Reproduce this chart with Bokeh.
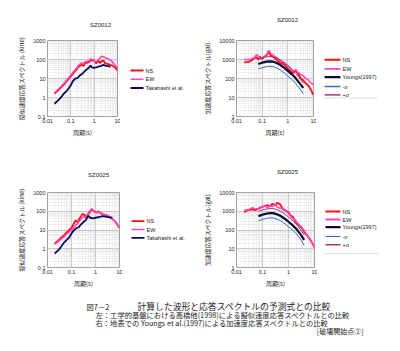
import math
from bokeh.plotting import figure
from bokeh.models import (FixedTicker, CustomJSTickFormatter, Label, Range1d, Spacer)
from bokeh.core.properties import value
from bokeh.layouts import column, row
from bokeh.embed import file_html
from bokeh.resources import INLINE

# ---------------- data ----------------
# Panel 1: SZ0012, pseudo-velocity response spectrum (kine)
p1_T = [0.02, 0.03, 0.04, 0.05, 0.06, 0.08, 0.1, 0.12, 0.15, 0.18, 0.2, 0.25, 0.3, 0.35,
        0.4, 0.5, 0.6, 0.7, 0.8, 0.9, 1.0, 1.2, 1.5, 1.8, 2.0, 2.5, 3.0, 4.0, 5.0, 6.0,
        7.0, 8.0, 10.0]
p1_NS = [1.6, 2.5, 3.6, 4.8, 6.2, 9.5, 13, 17, 24, 30, 38, 48, 52, 45, 62, 68, 75, 95,
         85, 100, 90, 62, 85, 65, 80, 88, 62, 58, 52, 48, 42, 38, 26]
p1_EW = [1.8, 2.8, 4.0, 5.5, 7.0, 11, 15, 20, 28, 35, 45, 58, 65, 60, 75, 80, 85, 110,
         100, 95, 80, 75, 95, 120, 150, 140, 125, 110, 90, 75, 60, 50, 35]
p1_TK_T = [0.02, 0.03, 0.04, 0.05, 0.06, 0.07, 0.08, 0.1, 0.12, 0.15, 0.2, 0.25, 0.3,
           0.4, 0.5, 0.6, 0.7, 0.8, 1.0, 1.2, 1.5, 2.0, 2.5, 3.0, 4.0, 5.0]
p1_TK = [0.47, 0.75, 1.1, 1.6, 2.0, 2.4, 3.0, 4.4, 7, 9.5, 11, 15, 17, 25, 31, 38, 48,
         38, 36, 38, 42, 46, 52, 48, 45, 42]

# Panel 2: SZ0012, acceleration response spectrum (gal)
p2_T = [0.02, 0.03, 0.04, 0.05, 0.06, 0.07, 0.08, 0.1, 0.13, 0.15, 0.18, 0.21, 0.25,
        0.28, 0.36, 0.47, 0.6, 0.71, 0.85, 1.0, 1.2, 1.4, 1.6, 2.0, 2.4, 3.2, 4.0, 4.7,
        6.0, 7.0, 8.0, 9.3, 10.0]
p2_NS = [700, 750, 950, 1200, 1300, 1000, 1400, 1100, 1500, 1700, 2650, 1600, 1400,
         1350, 1000, 700, 620, 550, 430, 330, 270, 220, 190, 270, 190, 105, 80, 60, 45,
         34, 25, 16, 14]
p2_EW = [1000, 1000, 1100, 1300, 1800, 1500, 1100, 1250, 1550, 1800, 3000, 2200, 1800,
         1600, 1300, 950, 800, 700, 580, 480, 380, 300, 220, 300, 220, 160, 140, 110,
         88, 70, 58, 50, 45]
p2_Y_T = [0.07, 0.1, 0.15, 0.2, 0.25, 0.3, 0.4, 0.5, 0.75, 1.0, 1.5, 2.0, 3.0, 4.0]
p2_Y = [580, 680, 770, 790, 770, 730, 620, 520, 350, 250, 160, 105, 52, 32]
p2_Ym = [320, 370, 420, 440, 430, 400, 340, 290, 190, 135, 85, 55, 27, 16]
p2_Yp = [1050, 1220, 1390, 1420, 1390, 1310, 1120, 940, 630, 450, 290, 190, 95, 58]

# Panel 3: SZ0025, pseudo-velocity response spectrum (kine)
p3_T = [0.02, 0.03, 0.04, 0.05, 0.06, 0.08, 0.1, 0.12, 0.15, 0.18, 0.2, 0.25, 0.28,
        0.32, 0.36, 0.4, 0.5, 0.6, 0.7, 0.8, 1.0, 1.15, 1.3, 1.6, 2.0, 2.5, 3.0, 4.0,
        5.0, 6.0, 7.0, 8.0, 10.0]
p3_NS = [1.9, 3.0, 4.3, 5.5, 7.0, 10, 13, 20, 33, 25, 35, 55, 70, 68, 62, 45, 70, 95,
         125, 110, 90, 85, 100, 80, 70, 65, 60, 50, 40, 32, 25, 20, 13]
p3_EW = [1.7, 2.6, 3.6, 4.5, 5.8, 8.0, 10, 13, 18, 22, 28, 38, 45, 50, 48, 50, 80, 110,
         140, 110, 85, 90, 95, 80, 70, 65, 60, 50, 40, 32, 25, 20, 15]
p3_TK_T = [0.02, 0.03, 0.04, 0.05, 0.06, 0.08, 0.1, 0.12, 0.15, 0.2, 0.25, 0.3, 0.4,
           0.5, 0.6, 0.8, 1.0, 1.5, 2.0, 3.0, 4.0, 5.0]
p3_TK = [0.56, 0.9, 1.5, 2.2, 2.8, 4.0, 6.5, 9, 12, 14, 20, 25, 35, 57, 45, 42, 45, 50,
         55, 50, 47, 45]

# Panel 4: SZ0025, acceleration response spectrum (gal)
p4_T = [0.02, 0.027, 0.041, 0.054, 0.081, 0.12, 0.16, 0.19, 0.24, 0.31, 0.36, 0.47,
        0.62, 0.81, 1.0, 1.2, 1.5, 1.85, 2.4, 3.2, 4.2, 5.5, 7.2, 10.0]
p4_NS = [880, 1150, 1250, 1150, 1550, 1900, 2100, 1800, 2500, 2100, 2800, 2400, 1250,
         1050, 880, 600, 490, 275, 190, 130, 70, 48, 27, 12]
p4_EW = [1150, 1150, 1550, 1300, 1450, 1900, 1550, 2100, 1750, 2300, 1700, 1450, 1450,
         980, 780, 530, 400, 330, 210, 140, 86, 48, 30, 12]
p4_Y_T = [0.07, 0.1, 0.15, 0.2, 0.25, 0.3, 0.4, 0.5, 0.75, 1.0, 1.5, 2.0, 3.0, 4.0]
p4_Y = [550, 660, 760, 800, 790, 750, 650, 560, 380, 275, 170, 115, 55, 30]
p4_Ym = [310, 370, 420, 450, 440, 410, 360, 310, 210, 150, 95, 62, 30, 15]
p4_Yp = [980, 1180, 1350, 1420, 1400, 1330, 1150, 1000, 680, 490, 300, 205, 98, 55]

x_major = [0.01, 0.1, 1, 10]
y_major_v = [0.1, 1, 10, 100, 1000]
y_major_a = [1, 10, 100, 1000, 10000]

titles = ["SZ0012", "SZ0012", "SZ0025", "SZ0025"]
x_label = "周期(s)"
y_label_v = "擬似速度応答スペクトル (kine)"
y_label_a = "加速度応答スペクトル(gal)"
legend_v = ["NS", "EW", "Takahashi et al."]
legend_a = ["NS", "EW", "Youngs(1997)", "-σ", "+σ"]

C_NS = "#FF1010"
C_EW = "#FF44C4"
C_TK = "#0A0A5A"
C_Y = "#0A0A33"
C_YM = "#3A68C8"
C_YP = "#9A3C6A"

SANS = "Liberation Sans"
CJK = "Noto Sans CJK JP"


def minor_of(lo, hi):
    out = []
    for e in range(lo, hi):
        for m in range(2, 10):
            out.append(m * 10.0 ** e)
    return out


def make_panel(w, h, bl, bt, br, bb, yr, yticks, ylab):
    p = figure(width=w, height=h, x_axis_type="log", y_axis_type="log",
               x_range=Range1d(0.01, 10), y_range=Range1d(*yr), title=None,
               output_backend="svg", toolbar_location=None,
               min_border_left=bl, min_border_top=bt, min_border_right=br,
               min_border_bottom=bb)
    p.background_fill_color = "white"
    p.border_fill_color = "white"
    p.outline_line_color = "#8a8a8a"
    p.outline_line_width = 0.8
    xt = FixedTicker(ticks=x_major, minor_ticks=minor_of(-2, 1))
    yt = FixedTicker(ticks=yticks,
                     minor_ticks=minor_of(int(round(math.log10(yr[0]))),
                                          int(round(math.log10(yr[1])))))
    fmt = CustomJSTickFormatter(code="return String(Number(tick.toPrecision(3)));")
    p.xaxis.ticker = xt
    p.yaxis.ticker = yt
    p.xgrid.ticker = xt
    p.ygrid.ticker = yt
    for ax in (p.xaxis, p.yaxis):
        ax.formatter = fmt
        ax.axis_line_color = None
        ax.major_tick_line_color = None
        ax.minor_tick_line_color = None
        ax.major_tick_out = 0
        ax.major_tick_in = 0
        ax.minor_tick_out = 0
        ax.minor_tick_in = 0
        ax.major_label_standoff = 2
        ax.major_label_text_font = SANS
        ax.major_label_text_font_size = "5.5px"
        ax.major_label_text_color = "#222222"
        ax.axis_label_text_font = CJK
        ax.axis_label_text_font_style = "normal"
        ax.axis_label_text_font_size = "6px"
        ax.axis_label_text_color = "#222222"
    p.xaxis.axis_label = x_label
    p.yaxis.axis_label = ylab
    p.xaxis.axis_label_standoff = 2
    p.yaxis.axis_label_standoff = 4
    for g in (p.xgrid, p.ygrid):
        g.grid_line_color = "#b4b4b4"
        g.grid_line_width = 0.7
        g.minor_grid_line_color = "#d2d2d2"
        g.minor_grid_line_width = 0.6
        g.minor_grid_line_dash = "1 1"
    return p


def blank(w, h):
    b = figure(width=w, height=h, x_range=Range1d(0, w), y_range=Range1d(h, 0),
               output_backend="svg", toolbar_location=None, title=None,
               x_axis_location=None, y_axis_location=None,
               min_border_left=0, min_border_right=0, min_border_top=0,
               min_border_bottom=0)
    b.outline_line_color = None
    b.xgrid.visible = False
    b.ygrid.visible = False
    b.border_fill_color = "white"
    b.background_fill_color = "white"
    return b


def legend_col(w, total_h, top, box_h, labels, styles, x0, x1, ys, rule=None):
    b = blank(w, box_h)
    for lab, (col, lw), y in zip(labels, styles, ys):
        b.segment(x0=[x0], y0=[y], x1=[x1], y1=[y], line_color=col, line_width=lw)
        b.text(x=[x1 + 2], y=[y], text=[lab], text_font=value(SANS),
               text_font_size="5.5px", text_baseline="middle", text_align="left",
               text_color="#222222")
    if rule is not None:
        b.segment(x0=[x0 - 1], y0=[rule], x1=[x0 + 53], y1=[rule],
                  line_color="#d6d6d6", line_width=0.8)
    return column(Spacer(width=w, height=top), b,
                  Spacer(width=w, height=total_h - top - box_h))


def title_strip(h, items):
    s = blank(400, h)
    for t, x, y in items:
        s.add_layout(Label(x=x, y=y, x_units="screen", y_units="screen", text=t,
                           text_align="center", text_baseline="middle",
                           text_font=SANS, text_font_size="6px",
                           text_color="#222222"))
    return s


st_v = [(C_NS, 1.8), (C_EW, 1.6), (C_TK, 1.8)]
st_a = [(C_NS, 2.0), (C_EW, 1.8), (C_Y, 2.2), (C_YM, 1.3), ("#B8558C", 1.8)]
st_a4 = [(C_NS, 2.0), (C_EW, 1.8), (C_Y, 2.2), (C_YM, 1.2), (C_YP, 1.5)]

# Panel 1
f1 = make_panel(106, 120, 27, 10, 3, 33, (0.1, 1000), y_major_v, y_label_v)
f1.line(p1_T, p1_NS, line_color=C_NS, line_width=1.8)
f1.line(p1_T, p1_EW, line_color=C_EW, line_width=1.6)
f1.line(p1_TK_T, p1_TK, line_color=C_TK, line_width=1.8)
g1 = legend_col(80, 120, 34, 30, legend_v, st_v, 10, 23, [6, 14.75, 23.5])

# Panel 2
f2 = make_panel(116, 120, 27, 5, 3, 34, (1, 10000), y_major_a, y_label_a)
f2.line(p2_T, p2_NS, line_color=C_NS, line_width=1.8)
f2.line(p2_T, p2_EW, line_color=C_EW, line_width=1.5)
f2.line(p2_Y_T, p2_Y, line_color=C_Y, line_width=2.2)
f2.line(p2_Y_T, p2_Ym, line_color=C_YM, line_width=1.0)
f2.line(p2_Y_T, p2_Yp, line_color=C_YP, line_width=1.0)
g2 = legend_col(84, 120, 24, 46, legend_a, st_a, 8, 24, [5.3, 14.3, 22.7, 32, 40.3],
                rule=43.5)

# Panel 3
f3 = make_panel(108, 113, 27, 12, 3, 26, (0.1, 1000), y_major_v, y_label_v)
f3.line(p3_T, p3_NS, line_color=C_NS, line_width=1.8)
f3.line(p3_T, p3_EW, line_color=C_EW, line_width=1.6)
f3.line(p3_TK_T, p3_TK, line_color=C_TK, line_width=1.8)
g3 = legend_col(78, 113, 35, 30, legend_v, st_v, 9, 22, [5.7, 14, 22.3])

# Panel 4
f4 = make_panel(117, 113, 29, 7, 3, 26, (1, 10000), y_major_a, y_label_a)
f4.line(p4_T, p4_NS, line_color=C_NS, line_width=1.8)
f4.line(p4_T, p4_EW, line_color=C_EW, line_width=1.5)
f4.line(p4_Y_T, p4_Y, line_color=C_Y, line_width=2.2)
f4.line(p4_Y_T, p4_Ym, line_color=C_YM, line_width=1.0)
f4.line(p4_Y_T, p4_Yp, line_color=C_YP, line_width=1.0)
g4 = legend_col(83, 113, 25, 51, legend_a, st_a4, 8, 23, [6, 14, 21.7, 31, 39.3],
                rule=48)

t1 = title_strip(30, [(titles[0], 100, 6), (titles[1], 287, 11)])
t2 = title_strip(30, [(titles[2], 98, 6), (titles[3], 287, 9)])

# Caption
cap_lines = [
    ("図7－2", 86, 45, "left", "7.3px"),
    ("計算した波形と応答スペクトルの予測式との比較", 137, 45, "left", "8.8px"),
    ("左：工学的基盤における高橋他(1998)による擬似速度応答スペクトルとの比較", 95, 37, "left", "7.3px"),
    ("右：地表での Youngs et al.(1997)による加速度応答スペクトルとの比較", 95, 29, "left", "7.3px"),
    ("[破壊開始点②]", 363, 21, "right", "7px"),
]
fc = blank(400, 58)
for t, x, y, al, fs in cap_lines:
    fc.add_layout(Label(x=x, y=y, x_units="screen", y_units="screen", text=t,
                        text_align=al, text_baseline="middle", text_font=CJK,
                        text_font_size=fs, text_color="#222222"))

layout = column(t1,
                row(Spacer(width=14, height=120), f1, g1, f2, g2),
                t2,
                row(Spacer(width=14, height=113), f3, g3, f4, g4),
                fc)
open("out.html", "w").write(file_html(layout, INLINE))
